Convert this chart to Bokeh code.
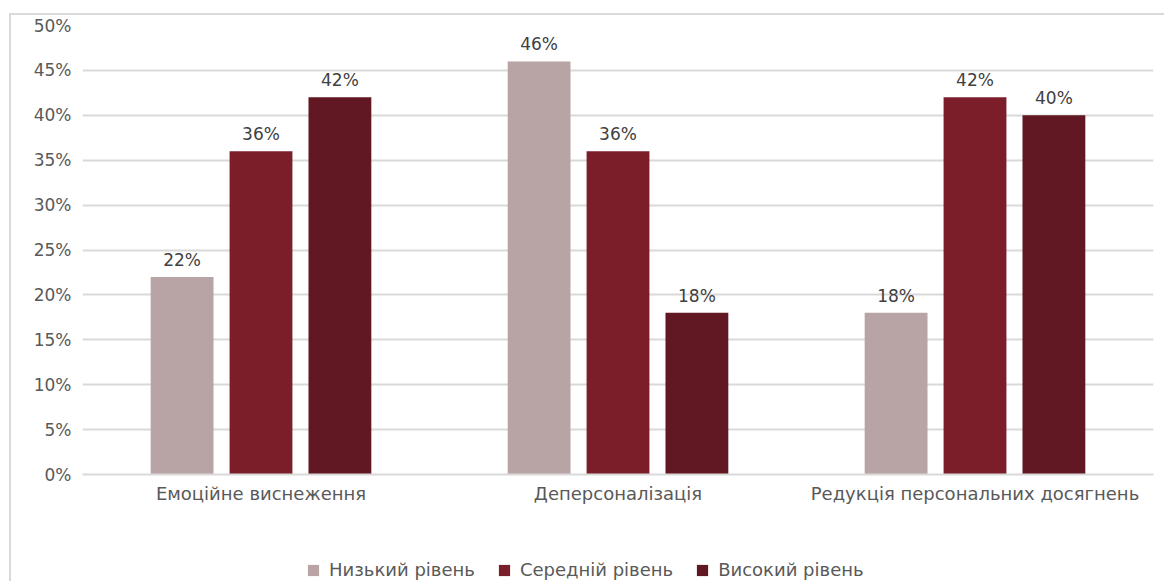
from bokeh.plotting import figure
from bokeh.layouts import column
from bokeh.models import ColumnDataSource, FixedTicker, PrintfTickFormatter, Legend, LegendItem, LabelSet
from bokeh.core.properties import value
from bokeh.transform import dodge
from bokeh.embed import file_html
from bokeh.resources import INLINE

# Burnout components and the share of respondents at each level (%)
categories = ["Емоційне виснеження", "Деперсоналізація", "Редукція персональних досягнень"]
series_names = ["Низький рівень", "Середній рівень", "Високий рівень"]
low = [22, 46, 18]
medium = [36, 36, 42]
high = [42, 18, 40]
y_ticks = [0, 5, 10, 15, 20, 25, 30, 35, 40, 45, 50]

colors = ["#b8a4a5", "#7b1e2a", "#611822"]
FONT = "DejaVu Sans"
TEXT = "#595959"
GRID = "#d9d9d9"

src = ColumnDataSource(dict(
    cat=categories,
    low=low, medium=medium, high=high,
    low_lbl=[f"{v}%" for v in low],
    medium_lbl=[f"{v}%" for v in medium],
    high_lbl=[f"{v}%" for v in high],
))

p = figure(x_range=categories, y_range=(0, 50), width=1153, height=515,
           output_backend="svg", toolbar_location=None,
           min_border_left=71, min_border_right=11, min_border_top=10,
           min_border_bottom=56)
p.outline_line_color = None
p.x_range.range_padding = 0

offsets = [-0.221, 0.0, 0.221]
fields = ["low", "medium", "high"]
for f, off, c in zip(fields, offsets, colors):
    p.vbar(x=dodge("cat", off, range=p.x_range), top=f, width=0.176,
           source=src, fill_color=c, line_color=None)
    lbl = LabelSet(x=dodge("cat", off, range=p.x_range), y=f, text=f + "_lbl",
                   source=src, text_align="center", text_baseline="bottom",
                   y_offset=7, text_font=value(FONT), text_font_size="17px",
                   text_color="#404040")
    p.add_layout(lbl)

# axes
p.yaxis.ticker = FixedTicker(ticks=y_ticks)
p.yaxis.formatter = PrintfTickFormatter(format="%d%%")
p.yaxis.axis_line_color = None
p.yaxis.major_tick_line_color = None
p.yaxis.minor_tick_line_color = None
p.yaxis.major_label_standoff = 5
p.yaxis.major_label_text_font = FONT
p.yaxis.major_label_text_font_size = "17px"
p.yaxis.major_label_text_color = TEXT

p.xaxis.axis_line_color = GRID
p.xaxis.axis_line_width = 2
p.xaxis.major_tick_line_color = None
p.xaxis.minor_tick_line_color = None
p.xaxis.major_label_standoff = 2
p.xaxis.major_label_text_font = FONT
p.xaxis.major_label_text_font_size = "18px"
p.xaxis.major_label_text_color = TEXT

p.xgrid.grid_line_color = None
p.ygrid.ticker = FixedTicker(ticks=y_ticks)
p.ygrid.grid_line_color = GRID
p.ygrid.grid_line_width = 2

# legend strip under the chart; its swatches come from zero-height bars
lg = figure(width=1153, height=51, output_backend="svg", toolbar_location=None,
            x_range=(0, 1), y_range=(0, 1),
            x_axis_location=None, y_axis_location=None,
            min_border=0, outline_line_color=None)
lg.grid.visible = False
items = []
for n, c in zip(series_names, colors):
    r = lg.vbar(x=[0.5], top=[0], bottom=0, width=0.1, fill_color=c, line_color=None)
    items.append(LegendItem(label=n, renderers=[r]))
legend = Legend(items=items, orientation="horizontal", location=(224, 1),
                glyph_width=14, glyph_height=14, label_standoff=9, spacing=22,
                label_text_font=FONT, label_text_font_size="18px",
                label_text_color=TEXT, border_line_color=None,
                background_fill_alpha=0, margin=0, padding=0)
lg.add_layout(legend)

page = column(p, lg, spacing=0)
page.margin = (13, 0, 0, 9)
page.styles = {"border-top": f"2px solid {GRID}", "border-left": f"2px solid {GRID}"}

open("out.html", "w").write(file_html(page, INLINE))
